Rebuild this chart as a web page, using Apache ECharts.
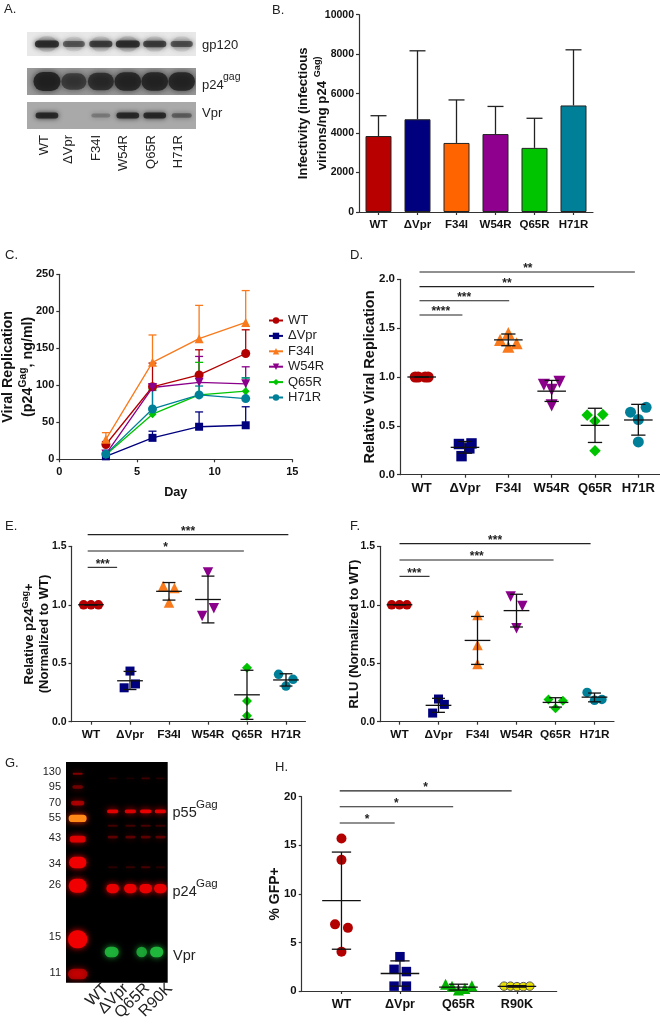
<!DOCTYPE html>
<html><head><meta charset="utf-8">
<script src="https://cdn.jsdelivr.net/npm/echarts@6/dist/echarts.min.js"></script>
<style>html,body{margin:0;padding:0;background:#fff}#c{width:660px;height:1026px}</style>
</head><body><div id="c"></div>
<script>
// ---------- data ----------
const cats6 = ['WT','ΔVpr','F34I','W54R','Q65R','H71R'];
const cats4 = ['WT','ΔVpr','Q65R','R90K'];
const colors = ['#b30000','#00007f','#f97a1c','#8b008b','#00c400','#007f99'];
const bColors = ['#b80000','#00007f','#ff6400','#8f008f','#00c400','#007f99'];

// B
const bMean = [3850,4700,3500,3950,3250,5400];
const bUpper = [4880,8170,5680,5350,4750,8220];

// C
const cDays = [3,6,9,12];
const cMeans = [[20,98,114,143],[4,29,44,46],[27,131,163,185],[7,97,104,102],[6,61,87,92],[7,68,87,82]];
const cUppers = [[24,130,148,175],[6,38,64,71],[36,168,208,228],[8,101,139,125],[8,95,131,110],[9,93,99,110]];

// D
const dPoints = [
 [[-.15,1],[-.08,1],[.08,1],[.15,1]],
 [[-.14,.314],[.15,.32],[.10,.27],[-.08,.19]],
 [[0,1.45],[-.19,1.38],[.19,1.345],[0,1.31]],
 [[-.18,.92],[.18,.95],[0,.87],[0,.71]],
 [[-.18,.61],[.18,.615],[0,.55],[0,.245]],
 [[-.18,.64],[.18,.69],[0,.565],[0,.335]]];
const dMean = [1,.28,1.38,.855,.505,.56];
const dLow = [1,.22,1.32,.75,.33,.405];
const dHigh = [1,.34,1.44,.965,.68,.72];
const dSig = [[-.05,4.92,2.075,'**',2.45],[-.05,3.98,1.925,'**',1.97],[-.05,2.02,1.78,'***',.98],[-.05,.94,1.635,'****',.44]];

// E
const ePoints = [
 [[-.19,1],[0,1],[.19,1]],
 [[0,.433],[.14,.323],[-.15,.29]],
 [[-.15,1.16],[.14,1.143],[0,1.02]],
 [[0,1.277],[.15,.97],[-.15,.904]],
 [[0,.462],[0,.177],[0,.05]],
 [[-.19,.405],[.18,.362],[0,.305]]];
const eMean = [1,.35,1.115,1.045,.23,.357];
const eLow = [1,.275,1.04,.845,.02,.305];
const eHigh = [1,.43,1.19,1.245,.44,.41];
const eSig = [[-.085,5.06,1.6,'***',2.49],[-.085,3.92,1.46,'*',1.91],[-.085,.67,1.32,'***',.30]];

// F
const fPoints = [
 [[-.2,1],[0,1],[.19,1]],
 [[0,.194],[.15,.148],[-.15,.074]],
 [[0,.912],[0,.656],[0,.493]],
 [[-.15,1.07],[.15,.99],[0,.8]],
 [[-.18,.19],[.19,.18],[0,.114]],
 [[-.19,.25],[.19,.19],[0,.183]]];
const fMean = [1,.14,.695,.95,.165,.21];
const fLow = [1,.08,.49,.81,.125,.17];
const fHigh = [1,.2,.9,1.09,.205,.245];
const fSig = [[0,4.9,1.523,'***',2.45],[0,3.95,1.383,'***',1.98],[0,.77,1.243,'***',.38]];

// H
const hPoints = [
 [[0,15.7],[0,13.5],[-.11,6.86],[.11,6.5],[0,4.05]],
 [[0,3.53],[-.1,2.23],[.11,2],[-.1,.5],[.11,.5]],
 [[-.22,.7],[-.11,.5],[.23,.55],[.11,.27],[0,.1]],
 [[-.22,.5],[-.11,.5],[0,.45],[.11,.45],[.22,.5]]];
const hMean = [9.3,1.8,.4,.47];
const hLow = [4.3,.5,.1,.4];
const hHigh = [14.3,3.1,.7,.55];
const hSig = [[-.03,2.91,20.6,'*',1.44],[-.03,1.91,18.97,'*',.94],[-.03,.91,17.29,'*',.44]];

// A: blot band strength per lane
const aGp120 = [1,.65,.85,1,.85,.7];
const aP24 = [1,.7,.85,.95,.95,.95];
const aVpr = [.95,0,.3,.95,.95,.5];

// G: blot band strength, by migration distance
const gLadderMig = [72,112,160,206,268,338,408,568,672];
const gLadderStrength = [.5,.4,.6,1,.85,1,1,1,.6];
const gLanes = [338,391,437,481];
const gRowMig = [86,185,228,262,352,416];
const gRowStrength = [[.15,.1,.25,.15],[.95,.9,1,.95],[.25,.25,.28,.22],[.35,.35,.35,.35],[.15,.2,.28,.15],[1,1,1,1]];
const gVprLanes = [335,425,470];
const gVprStrength = [.9,.8,1];

// ---------- helpers ----------
const font = 'Liberation Sans';
const axisCol = '#333';
const grids=[],xAxes=[],yAxes=[],series=[];
function addGrid(g,x,y){ grids.push(Object.assign({outerBoundsMode:'none'},g)); xAxes.push(Object.assign({gridIndex:grids.length-1},x)); yAxes.push(Object.assign({gridIndex:grids.length-1},y)); return grids.length-1; }
const line = {show:true,onZero:false,lineStyle:{color:axisCol,width:1.2}};
const tick = {show:true,length:3,lineStyle:{color:axisCol,width:1.2}};
function yVal(max,interval,fs,name,gap,nameFs,dec,lh){
  const L=lh||nameFs+2;
  return {type:'value',min:0,max:max,interval:interval,splitLine:{show:false},axisLine:line,axisTick:tick,
    axisLabel:{color:'#111',fontWeight:'bold',fontSize:fs,margin:5,fontFamily:font,formatter:v=>dec?v.toFixed(dec):String(v)},
    name:name,nameLocation:'middle',nameRotate:90,nameGap:gap,nameMoveOverlap:false,
    nameTextStyle:{color:'#111',fontWeight:'bold',fontSize:nameFs,fontFamily:font,verticalAlign:'middle',align:'center',lineHeight:L,
      rich:{s:{fontSize:nameFs-4,fontWeight:'bold',fontFamily:font,verticalAlign:'top',color:'#111',lineHeight:L-3}}}};
}
function xCat(cats,fs,min,max){
  const vals = cats.map((_,i)=>i);
  return {type:'value',min:min,max:max,splitLine:{show:false},axisLine:line,
    axisTick:Object.assign({},tick,{customValues:vals}),
    axisLabel:{customValues:vals,color:'#111',fontWeight:'bold',fontSize:fs,margin:7,fontFamily:font,formatter:v=>cats[v]||''}};
}
function errSeries(k,mean,low,high,mh,ch){
  return {type:'custom',xAxisIndex:k,yAxisIndex:k,z:5,silent:true,clip:false,
    data:mean.map((m,i)=>[i,m,low[i],high[i]]),encode:{x:0,y:[1,2,3]},
    renderItem:(p,api)=>{
      const i=api.value(0),m=api.value(1),l=api.value(2),h=api.value(3);
      const st={stroke:'#111',lineWidth:1.3,fill:null};
      const seg=(a,b)=>{const A=api.coord(a),B=api.coord(b);return{type:'line',shape:{x1:A[0],y1:A[1],x2:B[0],y2:B[1]},style:st};};
      return {type:'group',children:[
        seg([i-mh,m],[i+mh,m]),seg([i,l],[i,h]),seg([i-ch,l],[i+ch,l]),seg([i-ch,h],[i+ch,h])]};
    }};
}
function sigSeries(k,sig,fs){
  return {type:'custom',xAxisIndex:k,yAxisIndex:k,z:6,silent:true,clip:false,
    data:sig.map(r=>[r[0],r[2]]),encode:{x:0,y:1},
    renderItem:(p,api)=>{
      const r=sig[p.dataIndex],A=api.coord([r[0],r[2]]),B=api.coord([r[1],r[2]]),T=api.coord([r[4],r[2]]);
      return {type:'group',children:[
        {type:'line',shape:{x1:A[0],y1:A[1],x2:B[0],y2:B[1]},style:{stroke:'#222',lineWidth:1.1}},
        {type:'text',style:{x:T[0],y:T[1]-3,text:r[3],fill:'#222',font:'bold '+fs+'px "'+font+'"',textAlign:'center',textVerticalAlign:'middle'}}]};
    }};
}
const syms=['circle','rect','triangle','triangle','diamond','circle'];
const rots=[0,0,0,180,0,0];
const symScale=[1,.95,1.1,1.1,1.05,1];
function dotPanel(g,cats,points,mean,low,high,sig,xfs,yMax,yInt,yfs,name,gap,nameFs,dec,sz,pad,opts,lh){
  const n=cats.length;
  const k=addGrid(g,xCat(cats,xfs,-pad,n-1+pad),yVal(yMax,yInt,yfs,name,gap,nameFs,dec,lh));
  points.forEach((pts,i)=>{
    const o=opts&&opts[i]||{};
    series.push({type:'scatter',xAxisIndex:k,yAxisIndex:k,z:3,silent:true,clip:false,
      symbol:o.symbol||syms[i],symbolRotate:o.rot!==undefined?o.rot:rots[i],symbolSize:sz*(o.scale||symScale[i]),
      itemStyle:{color:o.color||colors[i],opacity:1,borderColor:o.border||undefined,borderWidth:o.border?1:0},
      data:pts.map(p=>[i+p[0],p[1]])});
  });
  series.push(errSeries(k,mean,low,high,.33,.165));
  series.push(sigSeries(k,sig,12));
  return k;
}

// ---------- A: blots ----------
function blotGrid(top,h,bg){
  return addGrid({left:27,top:top,width:169,height:h,show:true,backgroundColor:bg,borderWidth:0},
    {type:'value',min:-.74,max:5.53,show:false},{type:'value',min:0,max:1,show:false});
}
function blotA(k,vals,h,w,col,blur){
  series.push({type:'custom',xAxisIndex:k,yAxisIndex:k,silent:true,clip:true,
    data:vals.map((v,i)=>[i,.5,v]),encode:{x:0,y:1},
    renderItem:(p,api)=>{
      const v=api.value(2); if(!v) return null;
      const c=api.coord([api.value(0),api.value(1)]);
      const W=w*(.75+.25*v),H=h*(.55+.45*v);
      return {type:'rect',shape:{x:c[0]-W/2,y:c[1]-H/2,width:W,height:H,r:H/2},
        style:{fill:col,opacity:v*.85,shadowBlur:blur,shadowColor:col}};
    }});
}
{
 const a=blotGrid(32,24,'#e8e8e8');
 blotA(a,aGp120.map(v=>v*.22),24,24,'#555',6);
 blotA(a,aGp120,7,24,'#222',5);
 blotA(blotGrid(68,27,'#9a9a9a'),aP24,19,27,'#1c1c1c',7);
 blotA(blotGrid(102,27,'#a9a9a9'),aVpr,6,23,'#1a1a1a',5);
}

// ---------- B ----------
{
 const k=addGrid({left:359,top:14.7,width:234,height:197.3},
  {type:'category',data:cats6,axisLine:line,axisTick:Object.assign({},tick,{alignWithLabel:true}),
   axisLabel:{color:'#111',fontWeight:'bold',fontSize:11.5,margin:7,fontFamily:font,interval:0}},
  yVal(10000,2000,10.5,'Infectivity (infectious\nvirions/ng p24 {s|Gag)}',46.5,13.2,0,19));
 series.push({type:'bar',xAxisIndex:k,yAxisIndex:k,barWidth:26,silent:true,
  data:bMean.map((v,i)=>({value:v,itemStyle:{color:bColors[i],borderColor:'#222',borderWidth:1}}))});
 series.push({type:'custom',xAxisIndex:k,yAxisIndex:k,z:1,silent:true,
  data:bMean.map((v,i)=>[i,v,bUpper[i]]),encode:{x:0,y:[1,2]},
  renderItem:(p,api)=>{
    const i=api.value(0),A=api.coord([i,api.value(1)]),B=api.coord([i,api.value(2)]);
    const st={stroke:'#222',lineWidth:1.3};
    return {type:'group',children:[
      {type:'line',shape:{x1:A[0],y1:A[1],x2:B[0],y2:B[1]},style:st},
      {type:'line',shape:{x1:B[0]-8,y1:B[1],x2:B[0]+8,y2:B[1]},style:st}]};
  }});
}

// ---------- C ----------
{
 const y=yVal(250,50,11,'Viral Replication\n(p24{s|Gag}, ng/ml)',41,14.3,0,20);
 const k=addGrid({left:59.3,top:274.3,width:233,height:185},
  {type:'value',min:0,max:15,interval:5,splitLine:{show:false},axisLine:line,axisTick:tick,
   axisLabel:{color:'#111',fontWeight:'bold',fontSize:11,margin:7,fontFamily:font},
   name:'Day',nameLocation:'middle',nameGap:27,nameMoveOverlap:false,nameTextStyle:{color:'#111',fontWeight:'bold',fontSize:12.6,fontFamily:font}},y);
 cats6.forEach((c,i)=>{
  series.push({type:'custom',xAxisIndex:k,yAxisIndex:k,z:2,silent:true,
   data:cDays.map((d,j)=>[d,cMeans[i][j],cUppers[i][j]]),encode:{x:0,y:[1,2]},
   renderItem:(p,api)=>{
     const A=api.coord([api.value(0),api.value(1)]),B=api.coord([api.value(0),api.value(2)]);
     const st={stroke:colors[i],lineWidth:1.3};
     return {type:'group',children:[
       {type:'line',shape:{x1:A[0],y1:A[1],x2:B[0],y2:B[1]},style:st},
       {type:'line',shape:{x1:B[0]-4,y1:B[1],x2:B[0]+4,y2:B[1]},style:st}]};
   }});
  series.push({type:'line',name:c,xAxisIndex:k,yAxisIndex:k,z:3,silent:true,
   symbol:syms[i],symbolRotate:rots[i],symbolSize:[9,8,9,9,8,9][i],
   lineStyle:{color:colors[i],width:1.3},itemStyle:{color:colors[i]},
   data:cDays.map((d,j)=>[d,cMeans[i][j]])});
 });
}

// ---------- D, E, F, H ----------
dotPanel({left:400,top:279.3,width:260,height:195.4},cats6,dPoints,dMean,dLow,dHigh,dSig,13,2,.5,11.5,'Relative Viral Replication',30,14.5,1,11,.5);
dotPanel({left:71.5,top:546.3,width:234,height:175.4},cats6,ePoints,eMean,eLow,eHigh,eSig,11.8,1.5,.5,10.5,'Relative p24{s|Gag}+\n(Normalized to WT)',35,13,1,9.5,.5,null,15);
dotPanel({left:380,top:546.3,width:234,height:175.4},cats6,fPoints,fMean,fLow,fHigh,fSig,11.8,1.5,.5,10.5,'RLU (Normalized to WT)',26,13,1,9.5,.5);
dotPanel({left:301.7,top:796.7,width:255,height:194.3},cats4,hPoints,hMean,hLow,hHigh,hSig,12.6,20,5,11.4,'% GFP+',27,14,0,10,.68,
  [{symbol:'circle',color:colors[0]},{symbol:'rect',color:colors[1]},{symbol:'triangle',color:'#00b400',rot:0},{symbol:'circle',color:'#e8e000',border:'#555',rot:0,scale:.85}]);

// ---------- G: blot ----------
{
 const k=addGrid({left:66,top:762,width:101.7,height:220.7,show:true,backgroundColor:'#000',borderWidth:0},
  {type:'value',min:198,max:503,show:false},{type:'value',min:37,max:698,inverse:true,show:false});
 const ladderW=[30,32,40,54,48,52,54,58,58], ladderH=[6,10,14,22,20,34,42,54,32];
 const band=(x,mig,w,h,col,glow,op)=>({x,mig,w,h,col,glow,op});
 const bands=[];
 gLadderMig.forEach((m,i)=>bands.push(band(233,m,ladderW[i],ladderH[i],i===3?'#ff8a18':'#f00000',i===3?'#ff3000':'#f00000',gLadderStrength[i])));
 const rowH=[5,11,6,8,6,28], rowW=[26,34,30,30,28,38];
 gRowMig.forEach((m,r)=>gLanes.forEach((x,j)=>bands.push(band(x,m,rowW[r],rowH[r],'#e80000','#e80000',gRowStrength[r][j]))));
 gVprLanes.forEach((x,j)=>bands.push(band(x,606,[42,32,40][j],32,'#1fb83c','#1fa838',gVprStrength[j])));
 series.push({type:'custom',xAxisIndex:k,yAxisIndex:k,silent:true,clip:true,
  data:bands.map(b=>[b.x,b.mig,b.op]),encode:{x:0,y:1},
  renderItem:(p,api)=>{
    const b=bands[p.dataIndex],c=api.coord([b.x,b.mig]),W=b.w/3,H=b.h/3;
    return {type:'rect',shape:{x:c[0]-W/2,y:c[1]-H/2,width:W,height:H,r:H/2},
      style:{fill:b.col,opacity:b.op,shadowBlur:6,shadowColor:b.glow}};
  }});
}

// ---------- free text ----------
const T=(x,y,text,fs,extra)=>({type:'text',x:x,y:y,silent:true,
  style:Object.assign({text:text,fill:'#222',font:fs+'px "'+font+'"',textVerticalAlign:'middle'},extra||{})});
const R=(x,y,text,fs,rot)=>({type:'text',x:x,y:y,rotation:rot,silent:true,
  style:{text:text,fill:'#222',font:fs+'px "'+font+'"',textAlign:'right',textVerticalAlign:'middle'}});
const gfx=[
 T(4,9,'A.',13),T(272,10,'B.',13),T(5,255,'C.',13),T(350,255,'D.',13),T(5,526,'E.',13),T(350,526,'F.',13),T(5,763,'G.',13),T(275,767,'H.',13),
 T(202,45,'gp120',13),T(202,85,'p24',13),T(223,77,'gag',10.5),T(202,113,'Vpr',13)
];
[[44,'WT'],[68,'ΔVpr'],[96,'F34I'],[123,'W54R'],[151,'Q65R'],[178,'H71R']].forEach(a=>gfx.push(R(a[0],135,a[1],13,Math.PI/2)));
[['130',65],['95',110],['70',160],['55',205],['43',263],['34',342],['26',405],['15',562],['11',670]].forEach(a=>
  gfx.push(T(61,750+a[1]/3,a[0],11,{textAlign:'right'})));
gfx.push(T(172.5,813,'p55',14.5),T(196,805,'Gag',11.5),T(172.5,891.5,'p24',14.5),T(196,883.5,'Gag',11.5),T(173,955.5,'Vpr',14.5));
[[106,986,'WT'],[126,986,'ΔVpr'],[147,986,'Q65R'],[170,986,'R90K']].forEach(a=>gfx.push(R(a[0],a[1],a[2],16,Math.PI/4)));

const chart=echarts.init(document.getElementById('c'),null,{renderer:'canvas'});
chart.setOption({animation:false,backgroundColor:'#fff',textStyle:{fontFamily:font},
 grid:grids,xAxis:xAxes,yAxis:yAxes,series:series,graphic:gfx,
 legend:{show:true,orient:'vertical',left:263,top:309,itemWidth:14,itemHeight:8,itemGap:2.4,selectedMode:false,
   data:cats6,textStyle:{fontSize:13,color:'#222',fontFamily:font,lineHeight:12.4,height:12.4}}
});
</script></body></html>
